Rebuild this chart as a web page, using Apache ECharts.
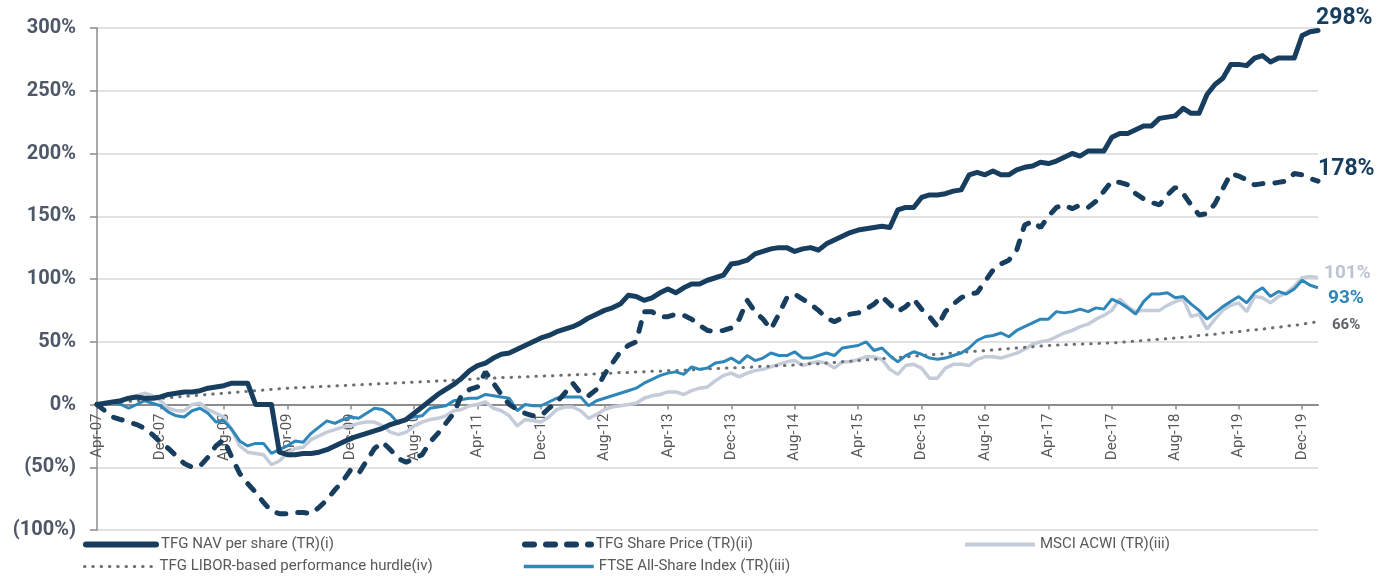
<!DOCTYPE html>
<html>
<head>
<meta charset="utf-8">
<script src="https://cdn.jsdelivr.net/npm/echarts@6/dist/echarts.min.js"></script>
<style>
html,body{margin:0;padding:0;background:#fff;}
#chart{width:1391px;height:576px;}
</style>
</head>
<body>
<div id="chart"></div>
<script>
// Monthly categories Apr-07 .. Feb-20
const monthNames = ['Jan','Feb','Mar','Apr','May','Jun','Jul','Aug','Sep','Oct','Nov','Dec'];
const categories = [];
for (let i = 0; i < 155; i++) {
  const m = (3 + i) % 12;
  const y = 2007 + Math.floor((3 + i) / 12);
  categories.push(monthNames[m] + '-' + String(y % 100).padStart(2, '0'));
}

const yTicks = [-100, -50, 0, 50, 100, 150, 200, 250, 300];

const navSeries = [
  0,1,2,3,5,6,5,5,6,8,
  9,10,10,11,13,14,15,17,17,17,
  0,0,0,-38,-40,-40,-39,-39,-38,-36,
  -33,-30,-27,-25,-23,-21,-19,-16,-14,-12,
  -7,-2,3,8,12,16,21,27,31,33,
  37,40,41,44,47,50,53,55,58,60,
  62,65,69,72,75,77,80,87,86,83,
  85,89,92,89,93,96,96,99,101,103,
  112,113,115,120,122,124,125,125,122,124,
  125,123,128,131,134,137,139,140,141,142,
  141,155,157,157,165,167,167,168,170,171,
  183,185,183,186,183,183,187,189,190,193,
  192,194,197,200,198,202,202,202,213,216,
  216,219,222,222,228,229,230,236,232,232,
  247,255,260,271,271,270,276,278,273,276,
  276,276,294,297,298
];

const shareSeries = [
  0,-5,-10,-12,-14,-16,-19,-24,-30,-35,
  -41,-47,-50,-49,-42,-33,-28,-42,-55,-63,
  -70,-78,-85,-87,-87,-86,-86,-87,-82,-76,
  -68,-61,-52,-55,-45,-35,-30,-36,-43,-46,
  -43,-40,-30,-23,-15,-7,8,12,14,26,
  17,8,0,-4,-7,-9,-9,-3,2,9,
  17,9,7,12,24,33,42,47,50,74,
  74,70,70,72,71,68,63,59,58,59,
  61,68,83,74,68,60,72,85,88,84,
  80,75,69,66,69,72,73,76,80,86,
  80,74,78,84,76,70,62,74,80,85,
  88,89,98,107,112,115,123,143,146,141,
  150,157,159,156,159,157,162,170,178,177,
  175,168,164,161,159,167,173,168,159,151,
  152,160,172,184,182,179,175,176,176,177,
  178,184,183,180,178
];

const msciSeries = [
  0,1,1,3,5,7,9,7,3,-3,
  -5,-5,0,1,-4,-7,-10,-20,-33,-38,
  -39,-40,-48,-45,-39,-35,-34,-28,-25,-22,
  -20,-18,-17,-15,-14,-14,-17,-22,-24,-22,
  -17,-14,-12,-11,-9,-5,-4,-1,0,2,
  -3,-5,-9,-17,-12,-13,-14,-10,-4,-2,
  -2,-5,-11,-8,-4,-2,-1,0,1,5,
  7,8,10,10,8,11,13,14,19,23,
  25,22,25,27,28,30,32,34,35,31,
  33,34,33,29,34,34,36,38,38,36,
  28,24,31,32,29,21,21,29,32,32,
  31,36,38,38,37,39,41,44,48,50,
  51,54,57,59,62,64,68,71,75,84,
  78,74,75,75,75,79,82,84,70,72,
  60,68,75,79,81,74,86,85,81,86,
  89,94,101,102,101
];

const liborSeries = [
  0,0.6,1.2,1.8,2.4,3,3.6,4.2,4.8,5.4,
  6,6.5,7,7.5,8,8.5,9,9.5,10,10.5,
  11,11.5,12,12.5,13,13.3,13.6,13.9,14.2,14.5,
  14.8,15.1,15.4,15.7,16,16.3,16.6,16.9,17.2,17.5,
  17.8,18.1,18.4,18.7,19,19.3,19.6,20,20.5,21,
  21,21.5,21.5,22,22,22.5,22.5,23,23,23.5,
  23.5,24,24,24.5,25,25,25.5,25.5,26,26,
  26.5,26.5,27,27,27.5,27.5,28,28.5,28.5,29,
  29,29.5,29.5,30,30.5,30.5,31,31,31.5,32,
  32.5,32.5,33,33.5,34,34.5,35,35.5,36,36.5,
  37,37.5,38,38.5,39,39.5,40,40.5,41,41.5,
  42,42.5,43,43.5,44,44.5,45,45.5,46,46.5,
  47,47.5,47.5,48,48,48.5,48.5,49,49,49.5,
  50,50.5,51,51.5,52,52.5,53,53.5,54,55,
  55.5,56,57,57.5,58,59,59.5,60,61,61.5,
  62.5,63,64,65,66
];

const ftseSeries = [
  0,1,2,0,-3,0,3,1,-1,-6,
  -9,-10,-5,-3,-7,-14,-13,-20,-29,-33,
  -31,-31,-39,-36,-33,-29,-30,-23,-18,-13,
  -15,-12,-10,-11,-7,-3,-4,-8,-15,-11,
  -10,-9,-3,-2,-1,3,4,5,5,8,
  7,6,5,-5,0,-1,-1,2,5,6,
  6,6,-1,3,5,7,9,11,13,17,
  20,23,25,26,24,30,28,29,33,34,
  37,33,39,35,37,41,39,39,42,37,
  37,39,41,39,45,46,47,50,43,45,
  39,34,39,42,40,37,36,37,39,41,
  45,51,54,55,57,54,59,62,65,68,
  68,74,73,74,76,74,77,76,84,81,
  77,72,82,88,88,89,85,86,80,75,
  68,73,78,82,86,81,89,93,86,90,
  88,92,99,95,93
];

const names = {
  nav: 'TFG NAV per share (TR)(i)',
  share: 'TFG Share Price (TR)(ii)',
  msci: 'MSCI ACWI (TR)(iii)',
  libor: 'TFG LIBOR-based performance hurdle(iv)',
  ftse: 'FTSE All-Share Index (TR)(iii)'
};

const NAVY = '#173e5e';
const BLUE = '#2e86b9';
const LGREY = '#c5ccd9';
const DGREY = '#6b6f74';
const FONT = 'Roboto';

function pct(v) { return Math.round(v) + '%'; }

const legendText = { color: '#595959', fontSize: 15, fontFamily: FONT };
function legend(name, left, top, w, lineStyle) {
  return {
    data: [name], left: left, top: top, padding: 0,
    itemWidth: w, itemHeight: 12, textStyle: legendText,
    itemStyle: { opacity: 0 },
    lineStyle: lineStyle,
    selectedMode: false
  };
}

const chart = echarts.init(document.getElementById('chart'), null, { renderer: 'canvas' });
chart.setOption({
  animation: false,
  backgroundColor: '#ffffff',
  grid: { left: 97, right: 73, top: 28, bottom: 46, containLabel: false, outerBoundsMode: 'none' },
  legend: [
    legend(names.nav, 83, 537, 70, { width: 6, color: NAVY, cap: 'round' }),
    legend(names.share, 522, 537, 66, { width: 6, color: NAVY, type: [9, 12], cap: 'round' }),
    legend(names.msci, 963, 537, 70, { width: 4, color: LGREY }),
    legend(names.libor, 83, 559, 70, { width: 3, color: DGREY, type: [0.5, 7.8], cap: 'round' }),
    legend(names.ftse, 522, 559, 70, { width: 3.5, color: BLUE })
  ],
  xAxis: {
    type: 'category',
    data: categories,
    boundaryGap: false,
    position: 'bottom',
    offset: -125.5,
    axisLine: { onZero: false, lineStyle: { color: '#8c8c8c', width: 2 } },
    axisTick: { show: true, interval: 7, length: 5, lineStyle: { color: '#8c8c8c', width: 1.5 } },
    axisLabel: { interval: 7, rotate: 90, fontSize: 15, color: '#595959', fontFamily: FONT, margin: 9 },
    splitLine: { show: false }
  },
  yAxis: {
    type: 'value',
    min: yTicks[0], max: yTicks[yTicks.length - 1], interval: 50,
    axisLine: { show: true, lineStyle: { color: '#8c8c8c', width: 1.5 } },
    axisTick: { show: true, length: 7, lineStyle: { color: '#8c8c8c', width: 1.5 } },
    axisLabel: {
      fontSize: 20, fontWeight: 'bold', color: '#4e5868', fontFamily: FONT, margin: 21,
      formatter: v => v < 0 ? '(' + (-v) + '%)' : v + '%'
    },
    splitLine: { lineStyle: { color: '#d9d9d9', width: 1.5 } }
  },
  series: [
    {
      name: names.msci, type: 'line', data: msciSeries, symbol: 'none', z: 2,
      lineStyle: { color: LGREY, width: 3.5 }, itemStyle: { color: LGREY },
      endLabel: { show: true, formatter: p => pct(p.value), color: '#bcc4d2', fontSize: 19, fontWeight: 'bold', fontFamily: FONT, offset: [-2, -4] }
    },
    {
      name: names.libor, type: 'line', data: liborSeries, symbol: 'none', z: 3,
      lineStyle: { color: DGREY, width: 3, type: [0.5, 7.8], cap: 'round' }, itemStyle: { color: DGREY },
      endLabel: { show: true, formatter: p => pct(p.value), color: '#5f6368', fontSize: 15, fontWeight: 'bold', fontFamily: FONT, offset: [6, 4] }
    },
    {
      name: names.ftse, type: 'line', data: ftseSeries, symbol: 'none', z: 4,
      lineStyle: { color: BLUE, width: 3 }, itemStyle: { color: BLUE },
      endLabel: { show: true, formatter: p => pct(p.value), color: BLUE, fontSize: 19, fontWeight: 'bold', fontFamily: FONT, offset: [2, 10] }
    },
    {
      name: names.share, type: 'line', data: shareSeries, symbol: 'none', z: 5,
      lineStyle: { color: NAVY, width: 5, type: [9, 12], cap: 'round' }, itemStyle: { color: NAVY },
      endLabel: { show: true, formatter: p => pct(p.value), color: NAVY, fontSize: 23, fontWeight: 'bold', fontFamily: FONT, offset: [-8, -12] }
    },
    {
      name: names.nav, type: 'line', data: navSeries, symbol: 'none', z: 6,
      lineStyle: { color: NAVY, width: 5, cap: 'round', join: 'round' }, itemStyle: { color: NAVY },
      endLabel: { show: true, formatter: p => pct(p.value), color: NAVY, fontSize: 23, fontWeight: 'bold', fontFamily: FONT, offset: [-10, -12] }
    }
  ]
});
</script>
</body>
</html>
